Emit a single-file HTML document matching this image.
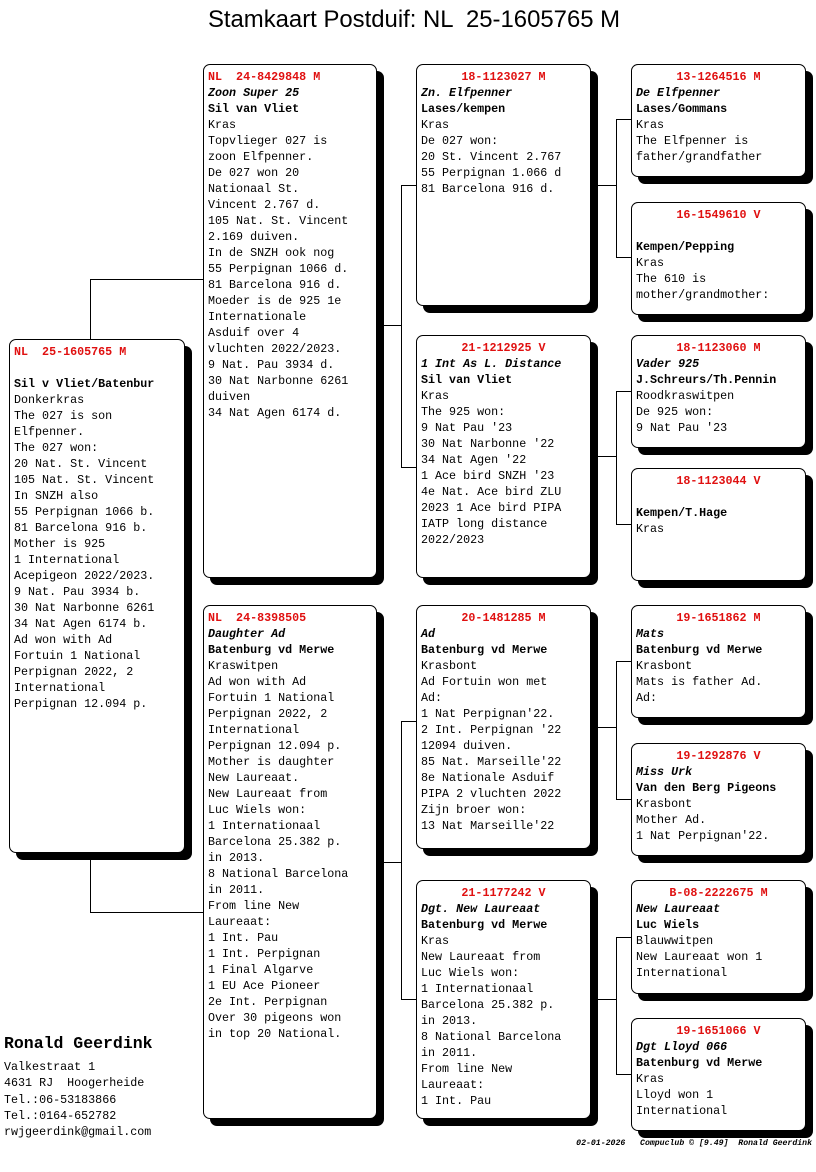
<!DOCTYPE html>
<html><head><meta charset="utf-8"><style>
body{margin:0;width:816px;height:1172px;background:#fff;position:relative;overflow:hidden;font-family:"Liberation Mono",monospace;}
.t{position:absolute;left:6px;width:816px;top:6px;text-align:center;font-family:"Liberation Sans",sans-serif;font-size:23.9px;white-space:pre;}
.b{position:absolute;border:1.5px solid #000;border-radius:7px;background:#fff;box-shadow:7px 7px 0 #000;box-sizing:border-box;padding:4px 0 0 4px;font-size:11.7px;line-height:16px;white-space:pre;overflow:hidden;}
.r{color:#e01010;font-weight:bold;}
.c{text-align:center;display:block;margin-left:-4px;}
.i{font-style:italic;font-weight:bold;}
.bo{font-weight:bold;}
.h{position:absolute;background:#000;height:1px;}
.v{position:absolute;background:#000;width:1px;}
</style></head><body>
<div class="t">Stamkaart Postduif: NL  25-1605765 M</div>

<div class="h" style="left:90px;top:279px;width:113px"></div><div class="v" style="left:90px;top:279px;height:60px"></div>
<div class="h" style="left:90px;top:912px;width:113px"></div><div class="v" style="left:90px;top:852px;height:60px"></div>
<div class="h" style="left:376px;top:325px;width:25px"></div><div class="v" style="left:401px;top:185px;height:282px"></div>
<div class="h" style="left:401px;top:185px;width:15px"></div><div class="h" style="left:401px;top:467px;width:15px"></div>
<div class="h" style="left:376px;top:862px;width:25px"></div><div class="v" style="left:401px;top:721px;height:278px"></div>
<div class="h" style="left:401px;top:721px;width:15px"></div><div class="h" style="left:401px;top:999px;width:15px"></div>
<div class="h" style="left:590px;top:185px;width:26px"></div><div class="v" style="left:616px;top:119px;height:138px"></div>
<div class="h" style="left:616px;top:119px;width:15px"></div><div class="h" style="left:616px;top:257px;width:15px"></div>
<div class="h" style="left:590px;top:456px;width:26px"></div><div class="v" style="left:616px;top:391px;height:133px"></div>
<div class="h" style="left:616px;top:391px;width:15px"></div><div class="h" style="left:616px;top:524px;width:15px"></div>
<div class="h" style="left:590px;top:727px;width:26px"></div><div class="v" style="left:616px;top:661px;height:138px"></div>
<div class="h" style="left:616px;top:661px;width:15px"></div><div class="h" style="left:616px;top:799px;width:15px"></div>
<div class="h" style="left:590px;top:999px;width:26px"></div><div class="v" style="left:616px;top:937px;height:137px"></div>
<div class="h" style="left:616px;top:937px;width:15px"></div><div class="h" style="left:616px;top:1074px;width:15px"></div>

<div class="b" style="left:9px;top:339px;width:176px;height:514px"><span class="r">NL  25-1605765 M</span>

<span class="bo">Sil v Vliet/Batenbur</span>
Donkerkras
The 027 is son
Elfpenner.
The 027 won:
20 Nat. St. Vincent
105 Nat. St. Vincent
In SNZH also
55 Perpignan 1066 b.
81 Barcelona 916 b.
Mother is 925
1 International
Acepigeon 2022/2023.
9 Nat. Pau 3934 b.
30 Nat Narbonne 6261
34 Nat Agen 6174 b.
Ad won with Ad
Fortuin 1 National
Perpignan 2022, 2
International
Perpignan 12.094 p.</div>

<div class="b" style="left:203px;top:64px;width:174px;height:514px"><span class="r">NL  24-8429848 M</span>
<span class="i">Zoon Super 25</span>
<span class="bo">Sil van Vliet</span>
Kras
Topvlieger 027 is
zoon Elfpenner.
De 027 won 20
Nationaal St.
Vincent 2.767 d.
105 Nat. St. Vincent
2.169 duiven.
In de SNZH ook nog
55 Perpignan 1066 d.
81 Barcelona 916 d.
Moeder is de 925 1e
Internationale
Asduif over 4
vluchten 2022/2023.
9 Nat. Pau 3934 d.
30 Nat Narbonne 6261
duiven
34 Nat Agen 6174 d.</div>

<div class="b" style="left:203px;top:605px;width:174px;height:514px"><span class="r">NL  24-8398505</span>
<span class="i">Daughter Ad</span>
<span class="bo">Batenburg vd Merwe</span>
Kraswitpen
Ad won with Ad
Fortuin 1 National
Perpignan 2022, 2
International
Perpignan 12.094 p.
Mother is daughter
New Laureaat.
New Laureaat from
Luc Wiels won:
1 Internationaal
Barcelona 25.382 p.
in 2013.
8 National Barcelona
in 2011.
From line New
Laureaat:
1 Int. Pau
1 Int. Perpignan
1 Final Algarve
1 EU Ace Pioneer
2e Int. Perpignan
Over 30 pigeons won
in top 20 National.</div>

<div class="b" style="left:416px;top:64px;width:175px;height:242px"><span class="r c">18-1123027 M</span><span class="i">Zn. Elfpenner</span>
<span class="bo">Lases/kempen</span>
Kras
De 027 won:
20 St. Vincent 2.767
55 Perpignan 1.066 d
81 Barcelona 916 d.</div>

<div class="b" style="left:416px;top:335px;width:175px;height:243px"><span class="r c">21-1212925 V</span><span class="i">1 Int As L. Distance</span>
<span class="bo">Sil van Vliet</span>
Kras
The 925 won:
9 Nat Pau '23
30 Nat Narbonne '22
34 Nat Agen '22
1 Ace bird SNZH '23
4e Nat. Ace bird ZLU
2023 1 Ace bird PIPA
IATP long distance
2022/2023</div>

<div class="b" style="left:416px;top:605px;width:175px;height:244px"><span class="r c">20-1481285 M</span><span class="i">Ad</span>
<span class="bo">Batenburg vd Merwe</span>
Krasbont
Ad Fortuin won met
Ad:
1 Nat Perpignan'22.
2 Int. Perpignan '22
12094 duiven.
85 Nat. Marseille'22
8e Nationale Asduif
PIPA 2 vluchten 2022
Zijn broer won:
13 Nat Marseille'22</div>

<div class="b" style="left:416px;top:880px;width:175px;height:239px"><span class="r c">21-1177242 V</span><span class="i">Dgt. New Laureaat</span>
<span class="bo">Batenburg vd Merwe</span>
Kras
New Laureaat from
Luc Wiels won:
1 Internationaal
Barcelona 25.382 p.
in 2013.
8 National Barcelona
in 2011.
From line New
Laureaat:
1 Int. Pau</div>

<div class="b" style="left:631px;top:64px;width:175px;height:113px"><span class="r c">13-1264516 M</span><span class="i">De Elfpenner</span>
<span class="bo">Lases/Gommans</span>
Kras
The Elfpenner is
father/grandfather</div>

<div class="b" style="left:631px;top:202px;width:175px;height:113px"><span class="r c">16-1549610 V</span>
<span class="bo">Kempen/Pepping</span>
Kras
The 610 is
mother/grandmother:</div>

<div class="b" style="left:631px;top:335px;width:175px;height:113px"><span class="r c">18-1123060 M</span><span class="i">Vader 925</span>
<span class="bo">J.Schreurs/Th.Pennin</span>
Roodkraswitpen
De 925 won:
9 Nat Pau '23</div>

<div class="b" style="left:631px;top:468px;width:175px;height:113px"><span class="r c">18-1123044 V</span>
<span class="bo">Kempen/T.Hage</span>
Kras</div>

<div class="b" style="left:631px;top:605px;width:175px;height:113px"><span class="r c">19-1651862 M</span><span class="i">Mats</span>
<span class="bo">Batenburg vd Merwe</span>
Krasbont
Mats is father Ad.
Ad:</div>

<div class="b" style="left:631px;top:743px;width:175px;height:113px"><span class="r c">19-1292876 V</span><span class="i">Miss Urk</span>
<span class="bo">Van den Berg Pigeons</span>
Krasbont
Mother Ad.
1 Nat Perpignan'22.</div>

<div class="b" style="left:631px;top:880px;width:175px;height:114px"><span class="r c">B-08-2222675 M</span><span class="i">New Laureaat</span>
<span class="bo">Luc Wiels</span>
Blauwwitpen
New Laureaat won 1
International</div>

<div class="b" style="left:631px;top:1018px;width:175px;height:113px"><span class="r c">19-1651066 V</span><span class="i">Dgt Lloyd 066</span>
<span class="bo">Batenburg vd Merwe</span>
Kras
Lloyd won 1
International</div>

<div style="position:absolute;left:4px;top:1034px;font-size:16.5px;font-weight:bold;white-space:pre">Ronald Geerdink</div>
<div style="position:absolute;left:4px;top:1059px;font-size:11.7px;line-height:16.3px;white-space:pre">Valkestraat 1
4631 RJ  Hoogerheide
Tel.:06-53183866
Tel.:0164-652782
rwjgeerdink@gmail.com</div>
<div style="position:absolute;right:4px;top:1139px;font-size:8.2px;font-style:italic;font-weight:bold;white-space:pre">02-01-2026   Compuclub © [9.49]  Ronald Geerdink</div>
</body></html>
